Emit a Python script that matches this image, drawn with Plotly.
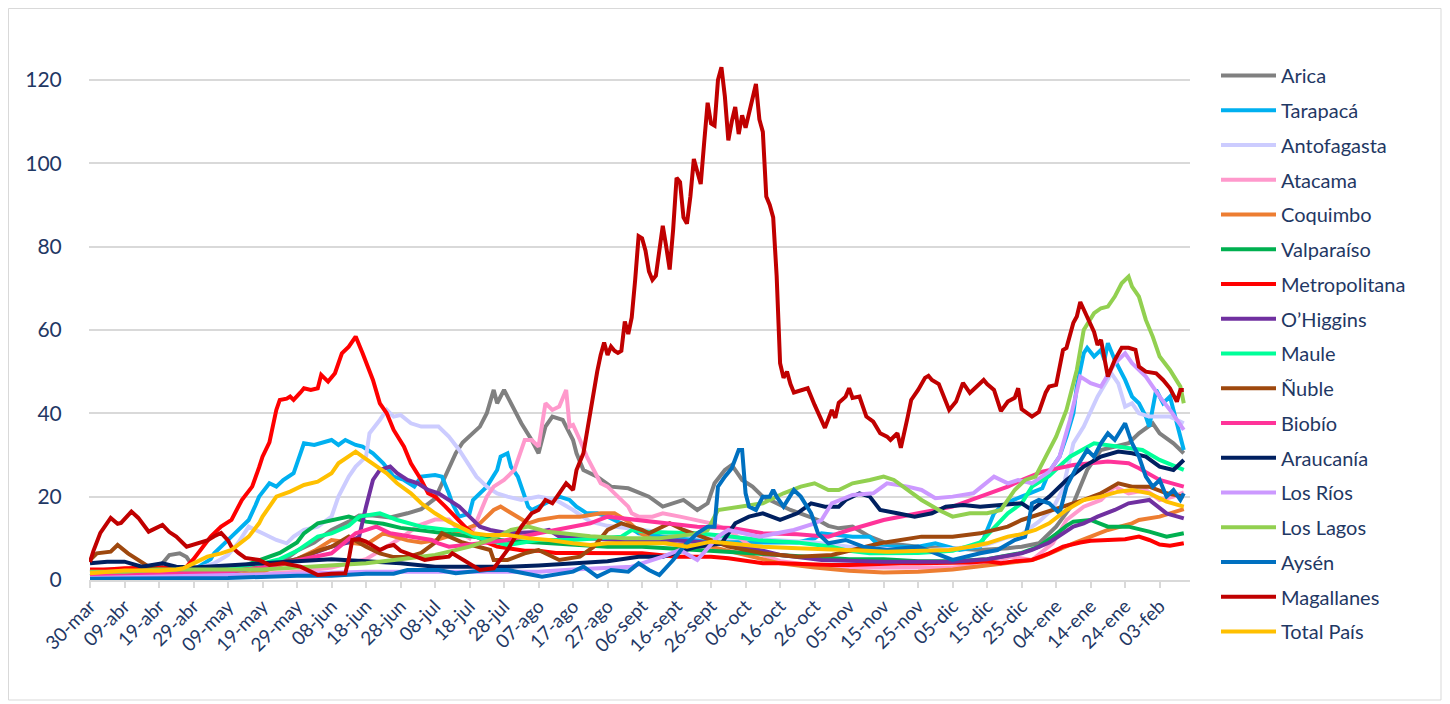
import pandas as pd
import plotly.graph_objects as go

START = pd.Timestamp("2020-03-30")
TICK_LABELS = ["30-mar", "09-abr", "19-abr", "29-abr", "09-may", "19-may", "29-may", "08-jun",
               "18-jun", "28-jun", "08-jul", "18-jul", "28-jul", "07-ago", "17-ago", "27-ago",
               "06-sept", "16-sept", "26-sept", "06-oct", "16-oct", "26-oct", "05-nov", "15-nov",
               "25-nov", "05-dic", "15-dic", "25-dic", "04-ene", "14-ene", "24-ene", "03-feb"]

# (days since 30-mar-2020, value)
ARICA = [(0,2),(5,2.5),(10,2.5),(15,2),(20,3),(23,6),(26,6.4),(28,5.5),(30,3),(35,2.5),(40,2),(45,2.5),(50,3),(55,4),(60,7),(65,9),(70,12),(75,14),(78,15.5),(82,15.5),(87,15),(92,16),(96,17),(100,19.5),(102,23),(104,27),(106,30.4),(108,33),(110,34.4),(111,35.2),(113,36.8),(115,40),(117,45.6),(118,42.4),(120,45.6),(123,40.8),(125,37.6),(128,33.6),(130,30.4),(132,36.8),(134,39.2),(137,38.4),(140,33.6),(141,30.4),(143,26.4),(147,24.8),(151,22.4),(156,22),(160,20.8),(162,20),(166,17.6),(169,18.4),(172,19.2),(176,16.8),(179,18.4),(181,23.2),(184,26.4),(186,27.6),(189,24),(192,22.4),(195,20),(199,18.4),(203,16.8),(207,15.6),(211,14.4),(214,13),(217,12.4),(221,12.8),(226,10.4),(231,8.8),(240,8),(250,7.6),(258,7.2),(266,7.6),(270,8),(275,8.8),(280,12.8),(285,18.4),(289,26.4),(293,31.2),(297,32),(301,32.8),(304,35.2),(308,37.6),(310,35.2),(314,32.8),(317,30.4)]
TARAPACA = [(0,1.5),(10,1.5),(20,2),(30,2.4),(35,5),(36,6.4),(41,10.4),(46,14.4),(48,18),(49,20),(52,23.2),(54,22.4),(56,24),(59,25.6),(61,30.4),(62,32.8),(65,32.4),(67,32.8),(70,33.6),(72,32.4),(74,33.6),(77,32.4),(79,32),(82,30.4),(85,28),(88,24.8),(91,24),(94,22.4),(96,24.8),(100,25.2),(102,24.8),(104,20.8),(105,18.4),(107,15.2),(110,16),(111,19.2),(113,20.8),(115,22.4),(118,26.4),(119,29.6),(121,30.4),(122,27.2),(124,24.8),(125,22.4),(127,17.6),(128,16.8),(130,17.6),(134,19.2),(136,20),(139,19.2),(141,17.6),(144,16),(147,16),(150,15.2),(156,12.8),(159,11.2),(165,10.5),(170,10),(180,9.5),(190,9),(200,9),(205,9),(210,10),(212,11.2),(221,10.4),(226,10.4),(229,8),(240,8),(245,8.8),(252,7.2),(258,8),(260,12),(262,16),(264,17.6),(267,19),(270,20),(273,21),(276,22),(278,26),(281,29.6),(283,34.4),(285,40),(286,46.4),(288,54.4),(289,55.7),(291,53.6),(293,55.2),(294,52.8),(295,56.8),(297,52.8),(300,48),(302,44),(304,42.4),(306,39.2),(307,36.8),(309,45.6),(311,42.4),(313,44),(314,40.8),(316,34.4),(317,31.2)]
ANTOFAGASTA = [(0,1),(10,1.5),(20,2),(30,2.5),(36,4),(40,6),(43,9),(46,12.8),(50,11.2),(54,9.6),(57,8.8),(59,10.4),(62,12),(66,12.8),(70,15.2),(72,20),(75,24.8),(77,27.2),(80,29.6),(81,35.2),(84,38.4),(86,40.8),(88,39.2),(90,39.6),(93,37.6),(96,36.8),(101,36.8),(104,34.4),(107,31.2),(109,28.8),(112,24.8),(115,22.4),(118,20.8),(121,20),(125,19.2),(130,20),(135,19.2),(140,16.8),(145,14),(150,13),(160,12),(170,11),(180,10),(190,10),(200,9.5),(210,9),(220,8),(230,7.5),(240,7),(250,7.5),(260,8.5),(265,10),(270,11),(275,14),(279,17),(282,22),(285,32.8),(288,36.8),(292,44),(296,49.6),(298,47.2),(300,41.6),(302,42.4),(304,40),(307,39.2),(310,39.2),(313,39.2),(317,37.6)]
ATACAMA = [(0,0.5),(20,0.8),(40,1),(60,2),(70,3),(80,5),(90,10),(95,13),(100,14.5),(104,14.5),(108,11),(110,10),(112,14),(115,20),(117,22.4),(120,24),(123,26.4),(126,33.6),(128,33.6),(130,32),(132,42.4),(134,40.8),(136,41.6),(138,45.6),(139,36.8),(140,37.2),(142,33.6),(144,29.6),(146,26.4),(148,23.2),(150,22.4),(152,20.8),(154,19.2),(156,17.6),(157,16),(159,15.2),(163,15.2),(166,16),(171,15.2),(176,14.4),(180,13.6),(185,12),(190,9),(195,6),(200,4.5),(210,3.5),(220,3),(230,3),(240,3),(250,3),(258,3.5),(262,4.5),(267,5.6),(273,4.8),(279,8.8),(283,14.4),(288,17.6),(293,19.2),(297,22.4),(301,20.8),(306,21.6),(310,19.2),(314,20),(317,21)]
COQUIMBO = [(0,0.5),(20,0.8),(40,1),(50,2),(60,5),(65,7),(70,9.6),(75,9),(80,8.5),(85,11.2),(88,10.4),(92,9.5),(96,9),(100,9.5),(104,10.5),(108,12),(113,13.6),(117,16.8),(119,17.6),(124,15.2),(127,13.6),(130,14.4),(136,15.2),(142,15.2),(148,16),(152,16),(156,14),(160,11),(165,9),(170,8.5),(180,8),(190,6),(200,4),(210,3),(220,2.2),(230,1.8),(240,2),(250,2.5),(260,3.5),(264,4),(273,4.8),(276,5.6),(285,8.8),(295,12),(302,13.6),(304,14.4),(310,15.2),(317,17)]
VALPARAISO = [(0,1),(10,1.5),(20,2),(30,2.5),(40,3),(45,3.5),(50,5),(55,6.5),(60,9),(62,11.2),(66,13.6),(70,14.4),(75,15.2),(80,14),(85,13.5),(90,12.5),(95,12),(100,11.5),(105,11),(110,10.5),(115,10),(120,9.5),(130,9),(140,8.5),(150,8),(160,8),(170,7.5),(180,7),(190,6.5),(200,6),(210,5.5),(220,5),(230,5),(240,4.5),(250,4.5),(260,5),(270,6.5),(275,8),(280,11),(283,13),(285,14),(290,14.4),(295,12.8),(301,12.8),(307,11.6),(312,10.4),(317,11.2)]
METROPOLITANA = [(0,2.5),(5,2.5),(10,2.8),(15,3),(20,3),(25,3),(28,3.2),(30,5),(32,7.2),(35,10.4),(38,12.8),(41,14.4),(44,19.2),(47,22.4),(49,27),(50,29.6),(52,33),(54,40.8),(55,43.2),(57,43.5),(58,44),(59,43.2),(61,45),(62,46),(64,45.6),(66,46),(67,49.2),(69,47.6),(71,49.6),(73,54.4),(75,56),(77,58.4),(79,54.4),(82,48),(84,42.4),(86,40),(88,36),(91,32),(93,28),(96,24),(98,20.8),(100,20),(103,17.6),(106,15),(109,12.5),(112,10.5),(115,9),(118,8),(122,7.5),(126,7),(130,7),(135,6.5),(140,6.5),(145,6.5),(150,6.5),(155,6.5),(160,6.4),(165,6),(170,5.6),(175,5.6),(180,5.6),(185,5.2),(190,4.5),(195,4),(200,4),(205,3.8),(210,3.6),(215,3.6),(220,3.6),(225,3.8),(230,3.8),(235,4),(240,4),(245,4),(250,4),(255,4.2),(260,4.5),(264,4),(268,4.5),(273,4.8),(278,6.4),(282,8),(287,9),(290,9.4),(295,9.6),(300,9.8),(304,10.4),(307,9.6),(310,8.5),(313,8.2),(317,8.8)]
OHIGGINS = [(0,1),(10,1),(20,1.5),(30,2),(40,2.5),(50,3.5),(60,5),(65,6.5),(70,8),(75,9),(78,10.4),(80,17.6),(82,24),(84,26.4),(87,27.2),(89,25.6),(92,24),(95,23.2),(98,21.6),(101,20.8),(104,19.2),(107,17.6),(110,15.2),(113,12.8),(116,12),(121,11.2),(130,11.5),(133,12),(136,10.4),(145,10),(155,9.5),(165,9.5),(170,9.5),(176,9.2),(185,8.5),(195,7),(200,6),(205,5.5),(212,4.8),(230,4.4),(250,4.4),(260,5),(270,6.4),(273,7.2),(278,9),(285,12.8),(288,13.6),(292,15.2),(297,16.8),(301,18.4),(307,19.2),(312,16),(317,14.8)]
MAULE = [(0,1),(10,1.5),(20,2),(30,2),(40,2.5),(50,4),(55,5),(60,7),(66,10.4),(70,11.2),(75,13),(78,15.2),(84,16),(89,14.4),(96,12.8),(104,12),(107,12),(113,10),(121,8.4),(130,9.6),(140,9.6),(154,10.4),(157,12),(162,11.5),(176,11.2),(185,10.5),(195,9.5),(205,9),(215,8),(220,7),(226,6.4),(240,6.5),(250,7),(258,9),(266,16),(270,18.4),(273,22.4),(278,25),(284,29.6),(291,32.8),(298,32),(305,31.2),(310,28.8),(317,26.4)]
NUBLE = [(0,4.8),(2,6.4),(6,6.8),(8,8.4),(11,6.4),(14,4.8),(17,3.2),(20,2.5),(30,2),(40,2),(50,3),(60,5),(66,7),(70,8),(75,10.4),(80,8),(84,6.4),(88,5.5),(92,5.5),(96,6.5),(100,9),(102,11.2),(108,9),(116,7.2),(117,4.8),(121,4.8),(126,6.4),(130,7.2),(136,4.8),(142,5.6),(146,8),(150,12),(154,13.6),(157,12.8),(160,12),(162,11.2),(168,13.6),(172,12),(185,8),(195,6.4),(205,5.6),(215,6),(229,8.8),(241,10.4),(250,10.4),(258,11.2),(266,12.8),(270,14.4),(273,15.2),(276,16),(280,17),(288,19.2),(293,20.8),(298,23.2),(302,22.4),(307,22.4),(312,20.8),(317,20)]
BIOBIO = [(0,1),(20,1.5),(40,2),(50,3),(61,4.8),(70,6.4),(77,11.2),(83,12.8),(87,11.2),(93,10.4),(99,9.6),(101,8.8),(104,8),(110,8.5),(120,9.5),(130,11.2),(140,12.8),(145,13.6),(150,15.2),(159,14.4),(166,13.6),(176,12.8),(186,12.5),(195,11.2),(205,11),(214,10.4),(220,12),(230,14.4),(240,16),(250,17.6),(258,20),(266,22.4),(270,24),(276,26),(285,27.6),(295,28.4),(301,28),(304,26.8),(310,24),(317,22.4)]
ARAUCANIA = [(0,4),(5,4.4),(10,4.4),(15,3.2),(21,4),(25,3.2),(30,3),(40,3.5),(50,4),(60,4.5),(70,5),(80,4.5),(90,4),(100,3.2),(110,3.2),(121,3.2),(130,3.5),(140,4),(150,4.5),(159,5.6),(166,5.6),(176,8),(183,8.8),(187,13.6),(191,15.2),(195,16),(200,14.4),(205,16),(209,18.4),(213,17.6),(217,17.6),(219,19.2),(223,20.8),(226,20),(229,16.8),(234,16),(239,15.2),(244,16),(248,17.6),(253,18),(258,17.6),(264,18),(270,18.4),(273,16.8),(278,20),(283,24),(288,27.2),(293,29.6),(298,30.8),(302,30.4),(306,29.6),(310,27.2),(314,26.4),(317,28.8)]
LOS_RIOS = [(0,0.5),(20,0.8),(40,1),(60,1.5),(80,2),(100,2),(120,2),(130,2),(140,2.5),(150,3),(157,3.2),(166,5.6),(171,7.2),(176,4.8),(182,10.4),(185,12),(194,10.4),(204,12),(210,13.6),(212,14.4),(215,18.4),(221,20.4),(227,20.8),(231,23.2),(237,22.4),(241,21.6),(245,19.6),(250,20),(256,20.8),(262,24.8),(266,23.2),(269,24),(273,23.2),(278,26),(281,29.6),(284,38.4),(287,48.8),(290,47.2),(293,46.4),(297,52),(300,54.4),(302,52),(306,48.8),(310,44),(313,40.8),(317,36)]
LOS_LAGOS = [(0,2),(10,2),(20,2.5),(30,2.5),(40,2.5),(50,2.5),(60,3),(70,3.5),(80,4),(90,5),(100,6),(105,7),(110,8),(116,9.6),(122,12),(127,12.8),(133,11.5),(137,11.2),(145,10.5),(155,10),(165,10),(175,11),(179,12),(182,16.8),(188,17.6),(195,18.4),(201,20.8),(206,22.4),(210,23.2),(214,21.6),(217,21.6),(221,23.2),(226,24),(230,24.8),(233,24),(237,21.6),(241,19.2),(246,16.8),(250,15.2),(255,16),(260,16),(264,16.8),(268,21.6),(271,24),(274,24.8),(277,29.6),(280,34.4),(283,40.8),(286,50.4),(288,60),(291,64),(293,65.2),(295,65.6),(297,68),(299,71.2),(301,72.8),(302,70.4),(304,68),(306,62.4),(308,58.4),(310,53.6),(313,50.4),(316,46.4),(317,42.4)]
AYSEN = [(0,0.3),(20,0.3),(40,0.5),(60,1),(70,1),(80,1.5),(88,1.5),(92,2.4),(96,2.4),(101,2.4),(106,1.6),(110,2),(115,2.4),(121,2.4),(131,0.8),(140,2),(143,3.2),(147,0.8),(151,2.4),(156,2),(159,4),(162,2.4),(165,1.2),(169,4.8),(172,8),(176,11.2),(179,12.8),(181,12.8),(182,22.4),(184,24.8),(186,26.8),(188,31.2),(189,31.2),(190,20.8),(191,17.6),(193,16.8),(195,20),(197,20),(198,21.6),(199,20),(201,17.6),(204,21.6),(206,20),(209,16),(211,11.2),(214,8.8),(219,9.6),(224,8),(231,7.2),(240,8),(250,4.8),(258,6.4),(263,7.2),(268,9.6),(271,10.4),(272,13.6),(273,18.4),(275,19.2),(278,18.4),(281,16),(283,22.4),(286,27.2),(289,31.2),(291,29.6),(293,32.8),(295,35.2),(297,33.6),(300,37.6),(302,32.8),(304,29.6),(306,24.8),(308,22.4),(310,24),(312,20),(314,21.6),(316,19.2),(317,20.8)]
MAGALLANES = [(0,4.3),(1,7),(3,11.3),(5,13.5),(6,14.9),(8,13.5),(9,13.7),(12,16.4),(14,14.9),(17,11.6),(19,12.5),(21,13.2),(23,11.5),(25,10.4),(28,8),(31,8.8),(34,9.5),(36,10.5),(38,11.3),(40,9.5),(41,8),(43,6.5),(45,5.3),(49,4.8),(52,3.6),(56,4),(61,3.2),(64,2),(66,1.2),(70,1.5),(74,1.6),(75,5),(76,9.6),(78,9.8),(80,9.2),(84,7.2),(86,8),(88,8.4),(90,7),(92,6.4),(97,4.8),(100,5.2),(104,5.6),(105,6.4),(109,4.4),(113,2.4),(117,2.8),(121,7.2),(125,12.8),(128,16),(130,16.8),(132,19.2),(134,18.4),(136,20.8),(138,23.2),(140,21.6),(141,26.4),(143,30.4),(145,40.8),(146,46),(147,50),(148,54),(149,57),(150,54),(151,56),(152,55),(153,54.5),(154,55),(155,62),(156,59),(157,63),(158,72),(159,82.5),(160,82),(161,79),(162,74),(163,72),(164,73),(165,80),(166,85),(167,80),(168,74.5),(169,84),(170,96.5),(171,95.5),(172,87),(173,85.5),(174,92),(175,101),(176,98),(177,95),(178,105),(179,114.5),(180,109.5),(181,109),(182,120),(183,123),(184,116),(185,105.5),(186,110),(187,113.5),(188,107),(189,111.5),(190,108.5),(191,112),(192,115.5),(193,119),(194,110.5),(195,107.5),(196,92),(197,90),(198,87),(199,73),(200,52),(201,48.5),(202,50),(203,47),(204,45),(206,45.5),(208,46),(210,42),(212,38.4),(213,36.5),(215,40.8),(216,38.9),(217,42.5),(219,44),(220,46),(221,43.7),(223,44),(225,39.2),(227,38),(229,35.2),(231,34.4),(232,33.6),(234,35.2),(235,31.7),(237,39.2),(238,43.2),(240,45.6),(242,48.5),(243,49),(244,48),(246,47),(247,45),(248,42.5),(249,40.8),(251,42.8),(253,47.3),(255,44.9),(257,46.4),(259,48),(260,47),(262,45.6),(264,40.5),(266,42.8),(268,43.7),(269,46),(270,41),(273,39.2),(275,40.3),(277,45),(278,46.4),(280,46.8),(282,55.2),(283,55.7),(285,61.7),(286,63.2),(287,66.7),(289,63.2),(291,59.5),(292,56.4),(293,57.6),(295,48.8),(297,52.8),(299,55.7),(301,55.7),(303,55.2),(304,51.2),(306,50),(309,49.6),(311,48),(313,46),(315,42.8),(316,45.6),(317,45.6)]
TOTAL_PAIS = [(0,1.6),(5,2),(10,2.3),(15,2.3),(20,2.2),(25,2.5),(27,2.8),(30,4),(34,5.6),(38,6.4),(41,7.2),(46,10.4),(49,13.6),(50,15.2),(54,20),(58,21.2),(62,22.8),(66,23.6),(70,25.6),(72,28),(75,29.6),(77,30.8),(79,29.6),(83,27.2),(86,25.6),(89,23.2),(93,20.8),(96,18.4),(100,16),(104,14),(107,12.8),(111,11.2),(115,10.8),(121,10.8),(127,10),(133,9.6),(140,8.8),(145,8.4),(150,8.8),(156,8.8),(160,9),(167,8.8),(173,8),(180,9.2),(185,8.8),(195,8),(205,7.6),(215,7.2),(225,7),(231,6.8),(240,7),(249,7.2),(255,8),(260,8.8),(266,10.4),(270,11),(274,12),(278,13.6),(283,16.8),(288,19.2),(293,20),(298,21.2),(302,21.6),(307,20.8),(312,18.8),(317,17.6)]

SERIES = [
    ("Arica", ARICA, "#808080"),
    ("Tarapacá", TARAPACA, "#00B0F0"),
    ("Antofagasta", ANTOFAGASTA, "#CCCCFF"),
    ("Atacama", ATACAMA, "#FF99CC"),
    ("Coquimbo", COQUIMBO, "#ED7D31"),
    ("Valparaíso", VALPARAISO, "#00B050"),
    ("Metropolitana", METROPOLITANA, "#FF0000"),
    ("O\u2019Higgins", OHIGGINS, "#7030A0"),
    ("Maule", MAULE, "#00FF99"),
    ("Ñuble", NUBLE, "#9E480E"),
    ("Biobío", BIOBIO, "#FF3399"),
    ("Araucanía", ARAUCANIA, "#002060"),
    ("Los Ríos", LOS_RIOS, "#CC99FF"),
    ("Los Lagos", LOS_LAGOS, "#92D050"),
    ("Aysén", AYSEN, "#0070C0"),
    ("Magallanes", MAGALLANES, "#C00000"),
    ("Total País", TOTAL_PAIS, "#FFC000"),
]

TEXT = "#1F3864"
GRID = "#D9D9D9"

fig = go.Figure()
for i, (name, pts, color) in enumerate(SERIES):
    dates = [START + pd.Timedelta(days=d) for d, _ in pts]
    vals = [v for _, v in pts]
    fig.add_trace(go.Scatter(x=dates, y=vals, name=name, mode="lines",
                             line=dict(color=color, width=4),
                             legendgroup=f"g{i}"))

tickvals = [START + pd.Timedelta(days=10 * i) for i in range(len(TICK_LABELS))]

# the page body adds an 8px offset, so the figure is 1442x696
W, H = 1442, 696
L, R, T, B = 81, 260, 51, 124
pw, ph = W - L - R, H - T - B

fig.update_layout(
    width=W, height=H,
    margin=dict(l=L, r=R, t=T, b=B, autoexpand=False),
    paper_bgcolor="white", plot_bgcolor="white",
    font=dict(family="Lato, 'Open Sans', sans-serif", color=TEXT),
    showlegend=True,
    legend=dict(x=(1208 - L) / pw, xanchor="left",
                yref="container", y=1 - 48 / H, yanchor="top", maxheight=660,
                font=dict(size=20, color=TEXT), tracegroupgap=5.75, itemwidth=55,
                traceorder="grouped", bgcolor="rgba(0,0,0,0)"),
    xaxis=dict(
        type="date", automargin=False,
        range=[START - pd.Timedelta(days=0.29), START + pd.Timedelta(days=318.8)],
        tickvals=tickvals, ticktext=TICK_LABELS, tickangle=-45,
        tickfont=dict(size=19, color=TEXT),
        showgrid=False, showline=True, linecolor=GRID, linewidth=1.5,
        ticks="outside", ticklen=6, tickcolor=GRID, tickwidth=1.5,
    ),
    yaxis=dict(
        automargin=False,
        range=[0, 125], tickvals=[0, 20, 40, 60, 80, 100, 120],
        tickfont=dict(size=21, color=TEXT),
        ticks="outside", ticklen=22, tickcolor="rgba(0,0,0,0)",
        showgrid=True, gridcolor=GRID, gridwidth=1.5, zeroline=False,
        showline=False,
    ),
    shapes=[dict(type="rect", xref="paper", yref="paper",
                 x0=(0.5 - L) / pw, x1=(1433 - L) / pw,
                 y0=(H - B - 692) / ph, y1=(H - B - 0.5) / ph,
                 line=dict(color=GRID, width=1), fillcolor="rgba(0,0,0,0)", layer="below")],
)

fig.write_html("out.html")
